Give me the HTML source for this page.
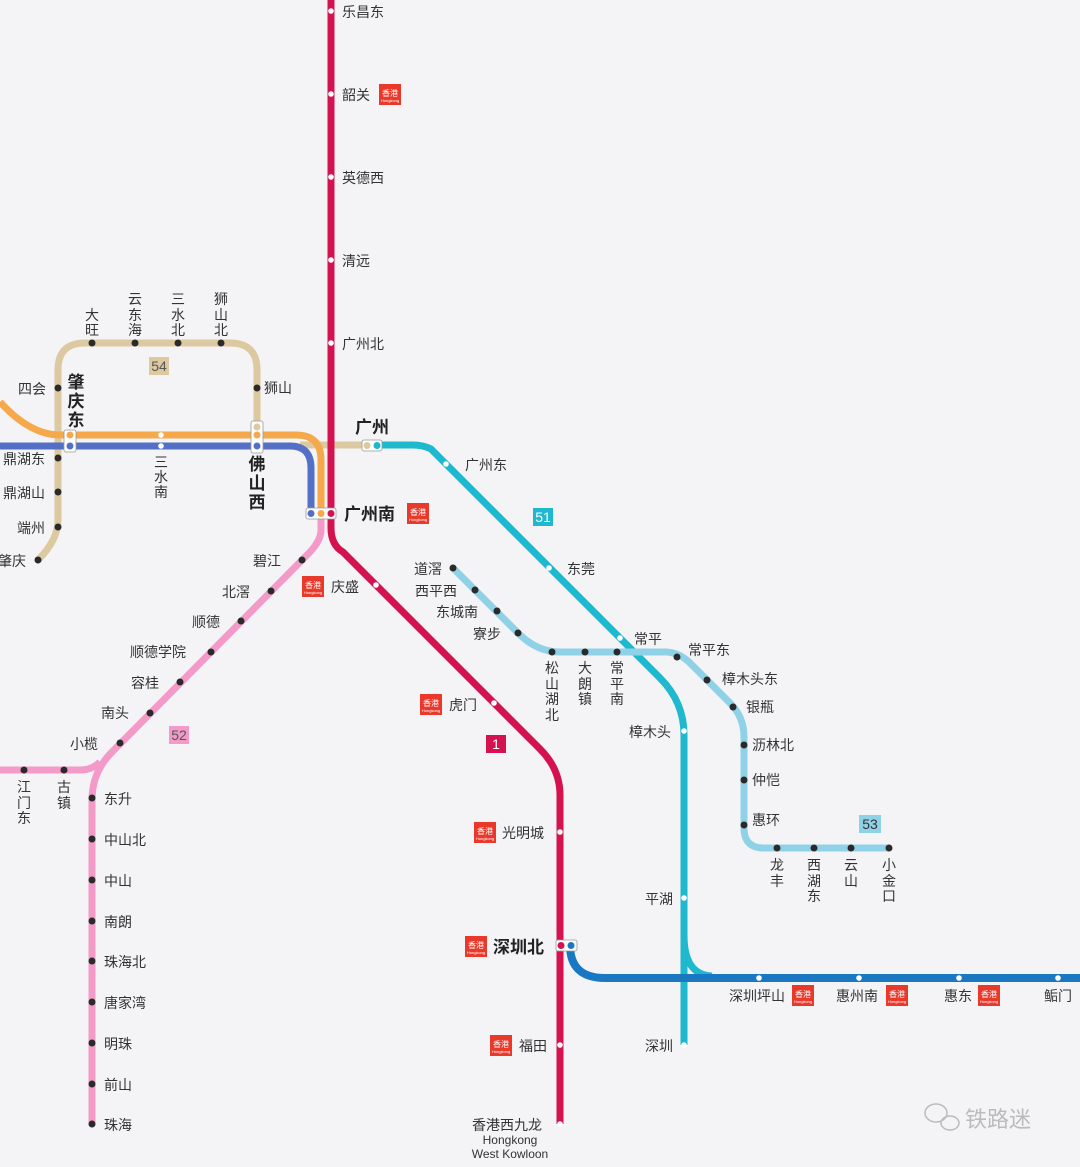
<!DOCTYPE html>
<html><head><meta charset="utf-8"><style>
html,body{margin:0;padding:0;background:#f4f4f6;}
svg{display:block;font-family:"Liberation Sans","Noto Sans CJK SC",sans-serif;}
.t{font-size:14px;fill:#333;}
.b{font-size:17px;fill:#222;font-weight:bold;}
</style></head><body>
<svg width="1080" height="1167" viewBox="0 0 1080 1167" xmlns="http://www.w3.org/2000/svg">
<defs>
<g id="hk"><rect x="0" y="0" width="22" height="21" fill="#e8392b"/><text x="11" y="12" font-size="8" fill="#fff" text-anchor="middle">香港</text><text x="11" y="18" font-size="4" fill="#fff" text-anchor="middle">Hongkong</text></g>
</defs>
<rect width="1080" height="1167" fill="#f4f4f6"/>
<g fill="none" stroke-linecap="butt">
<path d="M38,560 Q58,540 58,520 L58,370 Q58,343 85,343 L230,343 Q257,343 257,370 L257,446" stroke="#dcc9a0" stroke-width="7"/>
<path d="M300,445 L370,445" stroke="#dcc9a0" stroke-width="7"/>
<path d="M0,402 Q30,435 60,435 L296,435 Q321,435 321,460 L321,513" stroke="#f5a94a" stroke-width="7"/>
<path d="M0,446 L290,446 Q311,446 311,468 L311,513" stroke="#5470c6" stroke-width="7"/>
<path d="M321,513 L321,530 Q321,540 310,552 L112,752 Q92,772 92,800 L92,1124" stroke="#f49ac8" stroke-width="7"/>
<path d="M0,770 L80,770 Q92,770 100,762" stroke="#f49ac8" stroke-width="7"/>
<path d="M375,445 L413,445 Q423,445 431,449 L660,678 Q684,702 684,735 L684,1045" stroke="#1eb8cf" stroke-width="7"/>
<path d="M684,935 Q684,975 712,976" stroke="#1eb8cf" stroke-width="7"/>
<path d="M453,568 L518,633 Q537,652 560,652 L665,652 Q680,652 692,665 L730,703 Q744,717 744,737 L744,828 Q744,848 764,848 L889,848" stroke="#8fd2e8" stroke-width="7"/>
<path d="M570,945 Q570,978 605,978 L1080,978" stroke="#1a78c2" stroke-width="8"/>
<path d="M331,0 L331,528 Q331,545 343,552 L540,749 Q560,769 560,795 L560,1124" stroke="#d3124f" stroke-width="7"/>
</g>
<g fill="#2a2a2a">
<circle cx="38" cy="560" r="3.5"/><circle cx="58" cy="527" r="3.5"/><circle cx="58" cy="492" r="3.5"/><circle cx="58" cy="458" r="3.5"/><circle cx="58" cy="388" r="3.5"/>
<circle cx="92" cy="343" r="3.5"/><circle cx="135" cy="343" r="3.5"/><circle cx="178" cy="343" r="3.5"/><circle cx="221" cy="343" r="3.5"/><circle cx="257" cy="388" r="3.5"/>
<circle cx="302" cy="560" r="3.5"/><circle cx="271" cy="591" r="3.5"/><circle cx="241" cy="621" r="3.5"/><circle cx="211" cy="652" r="3.5"/><circle cx="180" cy="682" r="3.5"/><circle cx="150" cy="713" r="3.5"/><circle cx="120" cy="743" r="3.5"/>
<circle cx="24" cy="770" r="3.5"/><circle cx="64" cy="770" r="3.5"/>
<circle cx="92" cy="798" r="3.5"/><circle cx="92" cy="839" r="3.5"/><circle cx="92" cy="880" r="3.5"/><circle cx="92" cy="921" r="3.5"/><circle cx="92" cy="961" r="3.5"/><circle cx="92" cy="1002" r="3.5"/><circle cx="92" cy="1043" r="3.5"/><circle cx="92" cy="1084" r="3.5"/><circle cx="92" cy="1124" r="3.5"/>
<circle cx="453" cy="568" r="3.5"/><circle cx="475" cy="590" r="3.5"/><circle cx="497" cy="611" r="3.5"/><circle cx="518" cy="633" r="3.5"/><circle cx="552" cy="652" r="3.5"/><circle cx="585" cy="652" r="3.5"/><circle cx="617" cy="652" r="3.5"/>
<circle cx="677" cy="657" r="3.5"/><circle cx="707" cy="680" r="3.5"/><circle cx="733" cy="707" r="3.5"/><circle cx="744" cy="745" r="3.5"/><circle cx="744" cy="780" r="3.5"/><circle cx="744" cy="825" r="3.5"/>
<circle cx="777" cy="848" r="3.5"/><circle cx="814" cy="848" r="3.5"/><circle cx="851" cy="848" r="3.5"/><circle cx="889" cy="848" r="3.5"/>
</g>
<g fill="#fff">
<circle cx="331" cy="11" r="2.8"/><circle cx="331" cy="94" r="2.8"/><circle cx="331" cy="177" r="2.8"/><circle cx="331" cy="260" r="2.8"/><circle cx="331" cy="343" r="2.8"/>
<circle cx="376" cy="585" r="2.8"/><circle cx="494" cy="703" r="2.8"/><circle cx="560" cy="832" r="2.8"/><circle cx="560" cy="1045" r="2.8"/><circle cx="560" cy="1124" r="2.8"/>
<circle cx="446" cy="464" r="2.8"/><circle cx="549" cy="568" r="2.8"/><circle cx="620" cy="638" r="2.8"/><circle cx="684" cy="731" r="2.8"/><circle cx="684" cy="898" r="2.8"/><circle cx="684" cy="1045" r="2.8"/>
<circle cx="759" cy="978" r="2.8"/><circle cx="859" cy="978" r="2.8"/><circle cx="959" cy="978" r="2.8"/><circle cx="1058" cy="978" r="2.8"/>
<circle cx="161" cy="435" r="2.8"/><circle cx="161" cy="446" r="2.8"/>
</g>
<rect x="251" y="421" width="12" height="32" rx="2" fill="#fff" stroke="#999" stroke-width="0.8"/>
<circle cx="257" cy="427" r="3.5" fill="#dcc9a0"/><circle cx="257" cy="435" r="3.5" fill="#f5a94a"/><circle cx="257" cy="446" r="3.5" fill="#5470c6"/>
<rect x="64" y="430" width="12" height="22" rx="2" fill="#fff" stroke="#999" stroke-width="0.8"/>
<circle cx="70" cy="435" r="3.5" fill="#f5a94a"/><circle cx="70" cy="446" r="3.5" fill="#5470c6"/>
<rect x="306" y="508" width="30" height="11" rx="2" fill="#fff" stroke="#999" stroke-width="0.8"/>
<circle cx="311" cy="513.5" r="3.5" fill="#5470c6"/><circle cx="321" cy="513.5" r="3.5" fill="#f5a94a"/><circle cx="331" cy="513.5" r="3.5" fill="#d3124f"/>
<rect x="362" y="440" width="20" height="11" rx="2" fill="#fff" stroke="#999" stroke-width="0.8"/>
<circle cx="367" cy="445.5" r="3.5" fill="#dcc9a0"/><circle cx="377" cy="445.5" r="3.5" fill="#1eb8cf"/>
<rect x="556" y="940" width="21" height="11" rx="2" fill="#fff" stroke="#999" stroke-width="0.8"/>
<circle cx="561" cy="945.5" r="3.5" fill="#d3124f"/><circle cx="571" cy="945.5" r="3.5" fill="#1a78c2"/>
<rect x="149" y="357" width="20" height="18" fill="#dcc9a0"/><text x="159" y="371" font-size="14" fill="#555" text-anchor="middle">54</text>
<rect x="533" y="508" width="20" height="18" fill="#1eb8cf"/><text x="543" y="522" font-size="14" fill="#fff" text-anchor="middle">51</text>
<rect x="169" y="726" width="20" height="18" fill="#f49ac8"/><text x="179" y="740" font-size="14" fill="#555" text-anchor="middle">52</text>
<rect x="486" y="735" width="20" height="18" fill="#d3124f"/><text x="496" y="749" font-size="14" fill="#fff" text-anchor="middle">1</text>
<rect x="859" y="815" width="22" height="18" fill="#8fd2e8"/><text x="870" y="829" font-size="14" fill="#333" text-anchor="middle">53</text>
<use href="#hk" x="379" y="84"/><use href="#hk" x="407" y="503"/><use href="#hk" x="302" y="576"/><use href="#hk" x="420" y="694"/><use href="#hk" x="474" y="822"/><use href="#hk" x="465" y="936"/><use href="#hk" x="490" y="1035"/>
<use href="#hk" x="792" y="985"/><use href="#hk" x="886" y="985"/><use href="#hk" x="978" y="985"/>
<g class="t">
<text x="342" y="17">乐昌东</text><text x="342" y="100">韶关</text><text x="342" y="183">英德西</text><text x="342" y="266">清远</text><text x="342" y="349">广州北</text>
<text x="331" y="592">庆盛</text><text x="449" y="710">虎门</text><text x="502" y="838">光明城</text><text x="519" y="1051">福田</text>
<text x="472" y="1130">香港西九龙</text>
<text x="465" y="470">广州东</text><text x="567" y="574">东莞</text><text x="634" y="644">常平</text><text x="629" y="737">樟木头</text><text x="645" y="904">平湖</text><text x="645" y="1051">深圳</text>
<text x="414" y="574">道滘</text><text x="415" y="596">西平西</text><text x="436" y="617">东城南</text><text x="473" y="639">寮步</text>
<text x="688" y="655">常平东</text><text x="722" y="684">樟木头东</text><text x="746" y="712">银瓶</text><text x="752" y="750">沥林北</text><text x="752" y="785">仲恺</text><text x="752" y="825">惠环</text>
<text x="729" y="1001">深圳坪山</text><text x="836" y="1001">惠州南</text><text x="944" y="1001">惠东</text><text x="1044" y="1001">鲘门</text>
<text x="253" y="566">碧江</text><text x="222" y="597">北滘</text><text x="192" y="627">顺德</text><text x="130" y="657">顺德学院</text><text x="131" y="688">容桂</text><text x="101" y="718">南头</text><text x="70" y="749">小榄</text>
<text x="104" y="804">东升</text><text x="104" y="845">中山北</text><text x="104" y="886">中山</text><text x="104" y="927">南朗</text><text x="104" y="967">珠海北</text><text x="104" y="1008">唐家湾</text><text x="104" y="1049">明珠</text><text x="104" y="1090">前山</text><text x="104" y="1130">珠海</text>
<text x="18" y="394">四会</text><text x="3" y="464">鼎湖东</text><text x="3" y="498">鼎湖山</text><text x="17" y="533">端州</text><text x="-2" y="566">肇庆</text>
<text x="264" y="393">狮山</text>
</g>
<g class="t" text-anchor="middle">
<text x="92" y="320">大</text><text x="92" y="335">旺</text>
<text x="135" y="304">云</text><text x="135" y="320">东</text><text x="135" y="335">海</text>
<text x="178" y="304">三</text><text x="178" y="320">水</text><text x="178" y="335">北</text>
<text x="221" y="304">狮</text><text x="221" y="320">山</text><text x="221" y="335">北</text>
<text x="161" y="467">三</text><text x="161" y="482">水</text><text x="161" y="497">南</text>
<text x="24" y="792">江</text><text x="24" y="808">门</text><text x="24" y="823">东</text>
<text x="64" y="792">古</text><text x="64" y="808">镇</text>
<text x="552" y="673">松</text><text x="552" y="689">山</text><text x="552" y="704">湖</text><text x="552" y="720">北</text>
<text x="585" y="673">大</text><text x="585" y="689">朗</text><text x="585" y="704">镇</text>
<text x="617" y="673">常</text><text x="617" y="689">平</text><text x="617" y="704">南</text>
<text x="777" y="870">龙</text><text x="777" y="886">丰</text>
<text x="814" y="870">西</text><text x="814" y="886">湖</text><text x="814" y="901">东</text>
<text x="851" y="870">云</text><text x="851" y="886">山</text>
<text x="889" y="870">小</text><text x="889" y="886">金</text><text x="889" y="901">口</text>
</g>
<g class="b" text-anchor="middle">
<text x="76" y="388">肇</text><text x="76" y="407">庆</text><text x="76" y="426">东</text>
<text x="257" y="470">佛</text><text x="257" y="489">山</text><text x="257" y="508">西</text>
</g>
<text class="b" x="355" y="433">广州</text>
<text class="b" x="344" y="520">广州南</text>
<text class="b" x="493" y="953">深圳北</text>
<text x="510" y="1144" font-size="12" fill="#333" text-anchor="middle">Hongkong</text>
<text x="510" y="1158" font-size="12" fill="#333" text-anchor="middle">West Kowloon</text>
<g fill="none" stroke="#bbb" stroke-width="1.5"><ellipse cx="936" cy="1113" rx="11" ry="9"/><ellipse cx="950" cy="1123" rx="9" ry="7"/></g>
<text x="965" y="1127" font-size="22" fill="#bbb">铁路迷</text>
</svg>
</body></html>
